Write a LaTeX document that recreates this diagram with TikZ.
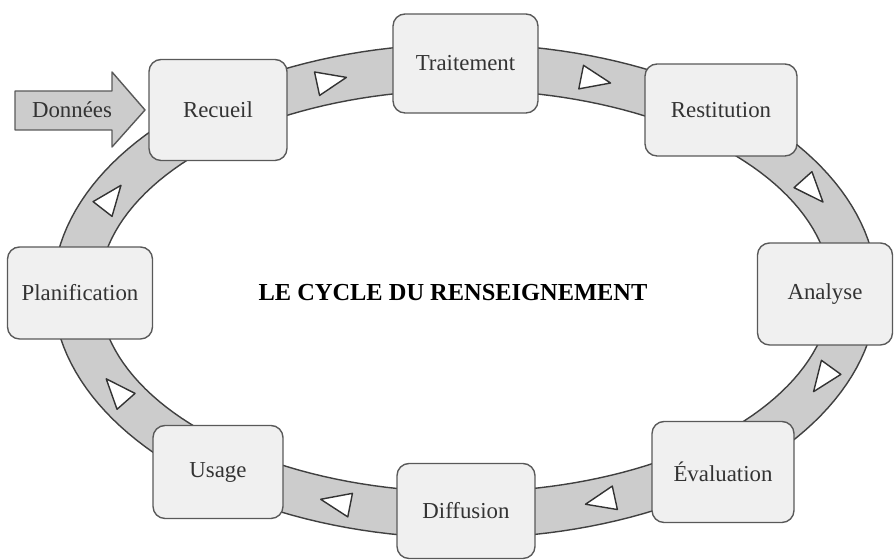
\documentclass[tikz,border=0pt]{standalone}
\usepackage{fontspec}
\setmainfont{Liberation Serif}
\usepackage{tikz}

\begin{document}
\begin{tikzpicture}[
                x=0.02cm,
                y=-0.02cm,
                line join=round,
                stage/.style={draw=black!65, line width=0.8pt, fill=gray!12,
                    rounded corners=0.24cm, text=black!80,
                    font=\fontsize{13}{15}\selectfont, align=center},
                band/.style={draw=black!75, line width=0.8pt, fill=gray!40},
                flowtip/.style={draw=black!80, line width=0.8pt, fill=white},
                feed/.style={draw=black!65, line width=0.8pt, fill=gray!40}
            ]

            \useasboundingbox (0,0) rectangle (894,560);

            \filldraw[band, even odd rule]
            plot[domain=0:360, samples=180, variable=\ang]
            ({465+412*cos(\ang)}, {291-247*sin(\ang)}) -- cycle
            plot[domain=0:360, samples=180, variable=\ang]
            ({465+366*cos(\ang)}, {291-201*sin(\ang)}) -- cycle;

            \foreach \ang in {110.5,70.8,27.2,337.4,290.8,251,206.9,155.9} {
                \pgfmathsetmacro\rot{atan2(-224*cos(\ang), 389*sin(\ang))}
                \draw[flowtip, shift={({465+389*cos(\ang)}, {291-224*sin(\ang)})},
                    rotate=\rot]
                (18,0) -- (-12,12) -- (-12,-12) -- cycle;
            }

            \draw[feed] (15,91) -- (112,91) -- (112,72) -- (145,110)
            -- (112,147) -- (112,130) -- (15,130) -- cycle;
            \node[text=black!80, font=\fontsize{13}{15}\selectfont] (donnees) at (72,110) {Données};

            \node[stage, minimum width=2.76cm, minimum height=2.02cm] (recueil) at (218,110) {Recueil};
            \node[stage, minimum width=2.9cm, minimum height=1.98cm] (traitement) at (465.5,63.5) {Traitement};
            \node[stage, minimum width=3.04cm, minimum height=1.84cm] (restitution) at (721,110) {Restitution};
            \node[stage, minimum width=2.7cm, minimum height=2.04cm] (analyse) at (825,294) {Analyse};
            \node[stage, minimum width=2.84cm, minimum height=2.02cm] (evaluation) at (723,472) {Évaluation};
            \node[stage, minimum width=2.76cm, minimum height=1.9cm] (diffusion) at (466,511) {Diffusion};
            \node[stage, minimum width=2.6cm, minimum height=1.86cm] (usage) at (218,472) {Usage};
            \node[stage, minimum width=2.9cm, minimum height=1.84cm] (planification) at (80,293) {Planification};

            \node[font=\fontsize{13.9}{16}\selectfont\bfseries] (titre) at (453,293) {LE CYCLE DU RENSEIGNEMENT};

        \end{tikzpicture}
\end{document}
